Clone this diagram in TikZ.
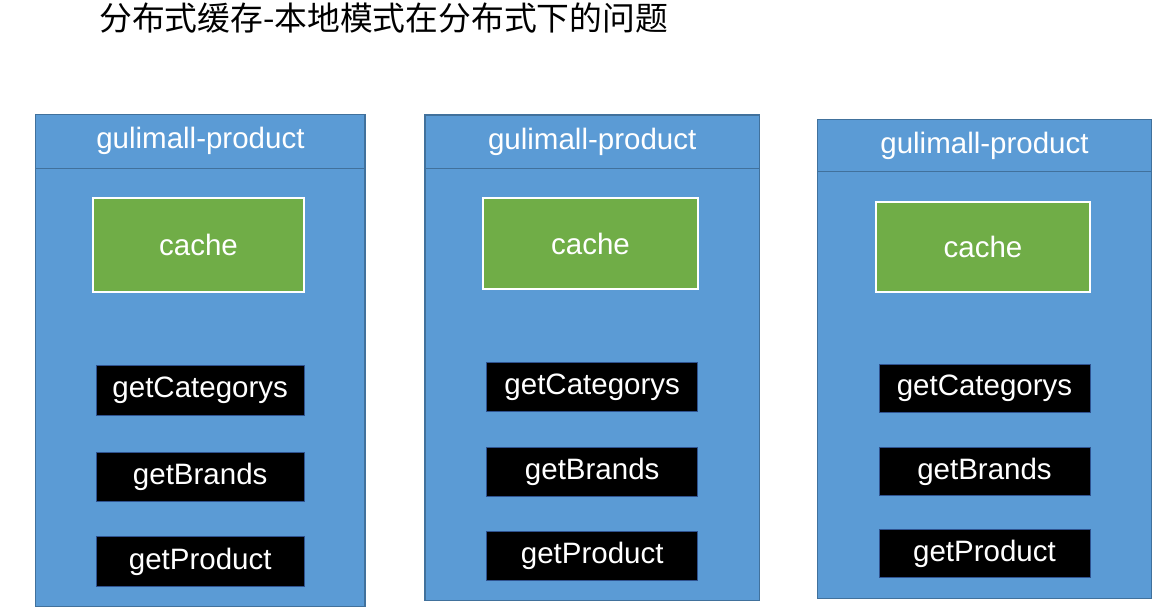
\documentclass[tikz,border=0pt]{standalone}
\usepackage{fontspec}
\setmainfont{Liberation Sans}
\newfontfamily\cjk{Noto Sans CJK SC}
\definecolor{boxblue}{HTML}{5B9BD5}
\definecolor{edgeblue}{HTML}{41719C}
\definecolor{cachegreen}{HTML}{70AD47}
\definecolor{fnedge}{HTML}{2F528F}
\tikzset{
  svc/.style={draw=edgeblue, line width=1.3pt, fill=boxblue, inner sep=0pt, outer sep=0pt},
  hdr/.style={draw=edgeblue, line width=1.3pt, fill=boxblue, inner sep=0pt, outer sep=0pt,
    text=white, font=\fontsize{29.5}{34}\selectfont},
  cachebox/.style={draw=white, line width=2pt, fill=cachegreen, inner sep=0pt, outer sep=0pt,
    text=white, font=\fontsize{29.5}{34}\selectfont},
  fnbox/.style={draw=fnedge, line width=0.6pt, fill=black, inner sep=0pt, outer sep=0pt,
    text=white, font=\fontsize{29.5}{34}\selectfont},
  titletext/.style={inner sep=0pt, font=\cjk\fontsize{32.8}{40}\selectfont, text=black}
}
\begin{document}
\begin{tikzpicture}[x=1pt,y=-1pt]
\useasboundingbox[fill=white] (0,0) rectangle (1160,614);
\node[titletext, anchor=base west] (title) at (99,30.5) {分布式缓存-本地模式在分布式下的问题};

% column 1
\node[svc, minimum width=329.3pt, minimum height=492.4pt] (s1) at (200.4,360.5) {};
\node[hdr, minimum width=329.3pt, minimum height=54pt] (h1) at (200.4,141.3) {gulimall-product};
\node[cachebox, minimum width=211.6pt, minimum height=93.4pt] (c1) at (198.5,245) {cache};
\node[fnbox, minimum width=208.3pt, minimum height=50pt] (a1) at (200.2,390.7) {getCategorys};
\node[fnbox, minimum width=208.3pt, minimum height=49.4pt] (b1) at (200.2,477) {getBrands};
\node[fnbox, minimum width=208.3pt, minimum height=50pt] (p1) at (200.2,561.7) {getProduct};

% column 2
\node[svc, minimum width=334.3pt, minimum height=485.7pt] (s2) at (592.2,357.9) {};
\node[hdr, minimum width=334.3pt, minimum height=53.3pt] (h2) at (592.2,141.65) {gulimall-product};
\node[cachebox, minimum width=214.4pt, minimum height=91pt] (c2) at (590.5,243.8) {cache};
\node[fnbox, minimum width=211pt, minimum height=49pt] (a2) at (592.2,387.2) {getCategorys};
\node[fnbox, minimum width=211pt, minimum height=49pt] (b2) at (592.2,472.2) {getBrands};
\node[fnbox, minimum width=211pt, minimum height=49pt] (p2) at (592.2,555.5) {getProduct};

% column 3
\node[svc, minimum width=334.4pt, minimum height=479pt] (s3) at (984.5,358.8) {};
\node[hdr, minimum width=334.4pt, minimum height=52.4pt] (h3) at (984.5,145.5) {gulimall-product};
\node[cachebox, minimum width=214pt, minimum height=90pt] (c3) at (983,246.7) {cache};
\node[fnbox, minimum width=211pt, minimum height=48.3pt] (a3) at (984.5,388.2) {getCategorys};
\node[fnbox, minimum width=211pt, minimum height=48.4pt] (b3) at (984.5,471.5) {getBrands};
\node[fnbox, minimum width=211pt, minimum height=48.7pt] (p3) at (984.5,553.4) {getProduct};
\end{tikzpicture}
\end{document}
